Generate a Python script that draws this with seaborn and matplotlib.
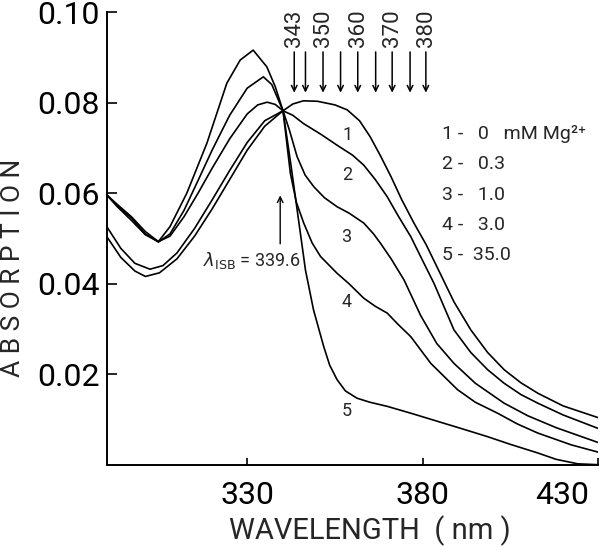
import matplotlib
matplotlib.use("Agg")
import matplotlib.pyplot as plt
import matplotlib.transforms as mtransforms
import numpy as np
import pandas as pd
import seaborn as sns

# Absorption spectra, one pair of lists per Mg2+ level
wl_1 = [290, 294, 298, 301, 305, 310, 315, 320, 325, 330, 335, 340.2, 343, 346, 350, 355,
        358.5, 362, 365, 368, 371, 374, 377.5, 381, 384.2, 388.9, 393.7, 398.5, 403.2,
        408, 412.8, 420, 430.4]
abs_1 = [0.0504, 0.0458, 0.0428, 0.0416, 0.0424, 0.0455, 0.0505, 0.0565, 0.0630, 0.0695,
         0.0748, 0.0782, 0.0797, 0.0804, 0.0803, 0.0795, 0.0784, 0.0760, 0.0725, 0.0682,
         0.0636, 0.0586, 0.0534, 0.0486, 0.0435, 0.0360, 0.0298, 0.0248, 0.0210, 0.0181,
         0.0158, 0.0130, 0.0103]

wl_2 = [290, 294, 298, 302.3, 306, 310, 315, 320, 325, 330, 335, 340.2, 343, 346, 351,
        355.6, 360, 363.2, 366.5, 369.9, 373, 376.6, 379.4, 383.2, 388.9, 393.7, 398.5,
        403.2, 408, 412.8, 420, 430.4]
abs_2 = [0.0526, 0.0478, 0.0445, 0.0432, 0.0440, 0.0468, 0.0522, 0.0585, 0.0650, 0.0712,
         0.0760, 0.0782, 0.0772, 0.0754, 0.0730, 0.0706, 0.0684, 0.0662, 0.0630, 0.0592,
         0.0550, 0.0504, 0.0460, 0.0401, 0.0298, 0.0248, 0.0210, 0.0180, 0.0155, 0.0136,
         0.0110, 0.0079]

wl_3 = [290, 293, 297, 301, 304.7, 308, 312, 316, 320, 325, 330, 333, 335.7, 338, 340.2,
        342, 344.2, 346.5, 349, 352, 355.6, 359, 363.2, 366, 368, 371, 374.7, 379.4, 384,
        388.9, 395, 403.2, 410, 418, 430.4]
abs_3 = [0.0596, 0.0570, 0.0540, 0.0508, 0.0493, 0.0505, 0.0548, 0.0600, 0.0655, 0.0720,
         0.0775, 0.0795, 0.0801, 0.0796, 0.0782, 0.0740, 0.0681, 0.0640, 0.0614, 0.0590,
         0.0570, 0.0556, 0.0534, 0.0510, 0.0489, 0.0455, 0.0408, 0.0330, 0.0268, 0.0224,
         0.0180, 0.0136, 0.0108, 0.0082, 0.0048]

wl_4 = [290, 293, 297, 301, 304.7, 308, 312, 316, 320, 325, 330, 334.6, 337, 340.2, 342.3,
        344, 346.1, 348.5, 350.9, 355.6, 359, 363.2, 366.5, 369.9, 373, 376.6, 382.3,
        389.9, 395, 401.3, 407, 412.8, 422.3, 430.4]
abs_4 = [0.0596, 0.0572, 0.0545, 0.0510, 0.0492, 0.0510, 0.0562, 0.0628, 0.0695, 0.0772,
         0.0832, 0.0857, 0.0840, 0.0782, 0.0644, 0.0580, 0.0534, 0.0490, 0.0460, 0.0423,
         0.0400, 0.0368, 0.0350, 0.0335, 0.0310, 0.0283, 0.0224, 0.0166, 0.0138, 0.0114,
         0.0090, 0.0070, 0.0044, 0.0027]

wl_5 = [290, 293, 297, 301, 304.7, 308, 312.8, 318.5, 324.2, 328, 331.7, 335.6, 338, 340.2,
        342.5, 345, 346.6, 348.9, 351.8, 353.5, 355.6, 358, 361.3, 365, 369.9, 377, 384.2,
        391, 398.5, 405, 412.8, 418, 424.2, 430.4]
abs_5 = [0.0596, 0.0575, 0.0548, 0.0515, 0.0493, 0.0526, 0.0600, 0.0710, 0.0843, 0.0894,
         0.0916, 0.0879, 0.0835, 0.0782, 0.0660, 0.0520, 0.0430, 0.0342, 0.0261, 0.0220,
         0.0188, 0.0163, 0.0147, 0.0138, 0.0129, 0.0113, 0.0096, 0.0080, 0.0062, 0.0045,
         0.0026, 0.0012, 0.0002, 0.0000]

curve_ids = ["1", "2", "3", "4", "5"]
mg_legend = ["1 -   0   mM Mg\u00b2\u207a", "2 -   0.3", "3 -   1.0", "4 -   3.0", "5 -  35.0"]
arrow_labels = ["343", "350", "360", "370", "380"]
isb_text = r"$\lambda_{\rm ISB}$ = 339.6"

sns.set_style("ticks")
plt.rcParams["font.family"] = ["Roboto", "DejaVu Sans"]

frames = []
for cid, wl, ab in zip(curve_ids, [wl_1, wl_2, wl_3, wl_4, wl_5],
                       [abs_1, abs_2, abs_3, abs_4, abs_5]):
    frames.append(pd.DataFrame({"wavelength": wl, "absorption": ab, "curve": cid}))
df = pd.concat(frames, ignore_index=True)

fig = plt.figure(figsize=(6, 5.5), dpi=100)
ax = fig.add_axes([0.178, 0.155, 0.819, 0.823])

sns.lineplot(data=df, x="wavelength", y="absorption", hue="curve", units="curve",
             estimator=None, sort=False, palette=["black"] * 5, linewidth=1.2,
             legend=False, ax=ax)

ax.set_xlim(290, 430)
ax.set_ylim(0, 0.10)
ax.set_xticks([330, 380, 430])
ax.set_yticks([0.02, 0.04, 0.06, 0.08, 0.10])
ax.set_yticklabels(["0.02", "0.04", "0.06", "0.08", "0.10"])
ax.tick_params(axis="both", direction="in", width=1.2, labelsize=23, colors="black")
ax.tick_params(axis="y", length=7, pad=5)
ax.tick_params(axis="x", length=5, pad=12)
for side in ["top", "right"]:
    ax.spines[side].set_visible(False)
for side in ["left", "bottom"]:
    ax.spines[side].set_linewidth(1.4)
    ax.spines[side].set_color("black")

# the 430 label sits left of its tick in the original
last = ax.get_xticklabels()[-1]
last.set_transform(last.get_transform() +
                   mtransforms.ScaledTranslation(-0.36, 0, fig.dpi_scale_trans))

ax.set_xlabel("")
ax.set_ylabel("")
fig.text(0.617, 0.008, "WAVELENGTH  ( nm )", fontsize=21, ha="center", va="bottom")
fig.text(0.022, 0.513, "A B S O R P T I O N", fontsize=19, rotation=90,
         ha="center", va="center")

# numbers on the curves
curve_label_pos = [(358.5, 0.0728), (358.5, 0.0640), (358.3, 0.0504), (358.3, 0.0360),
                   (358.3, 0.0118)]
for cid, (x, y) in zip(curve_ids, curve_label_pos):
    ax.text(x, y, cid, fontsize=13, ha="center", va="center")

# legend block as plain text
for i, line in enumerate(mg_legend):
    ax.text(385.4, 0.0731 - i * 0.0067, line, fontsize=14, ha="left", va="center")

# down arrows marking wavelengths
arrow_x = [343.4, 346.6, 351.6, 356.6, 361.5, 366.6, 371.3, 376.4, 380.9]
for x in arrow_x:
    ax.annotate("", xy=(x, 0.0822), xytext=(x, 0.0912),
                arrowprops=dict(arrowstyle="->", color="black", lw=1.1, shrinkA=0, shrinkB=0),
                annotation_clip=False)
label_x = [343.6, 351.6, 361.6, 371.3, 381.2]
for x, lab in zip(label_x, arrow_labels):
    ax.text(x, 0.0924, lab, fontsize=16, rotation=90, ha="center", va="bottom", clip_on=False)

# isosbestic point
ax.annotate("", xy=(339.4, 0.0595), xytext=(339.4, 0.0488),
            arrowprops=dict(arrowstyle="->", color="black", lw=1.0, shrinkA=0, shrinkB=0))
ax.text(345.3, 0.0452, isb_text, fontsize=13, ha="right", va="center")

fig.savefig("out.png", dpi=100)
